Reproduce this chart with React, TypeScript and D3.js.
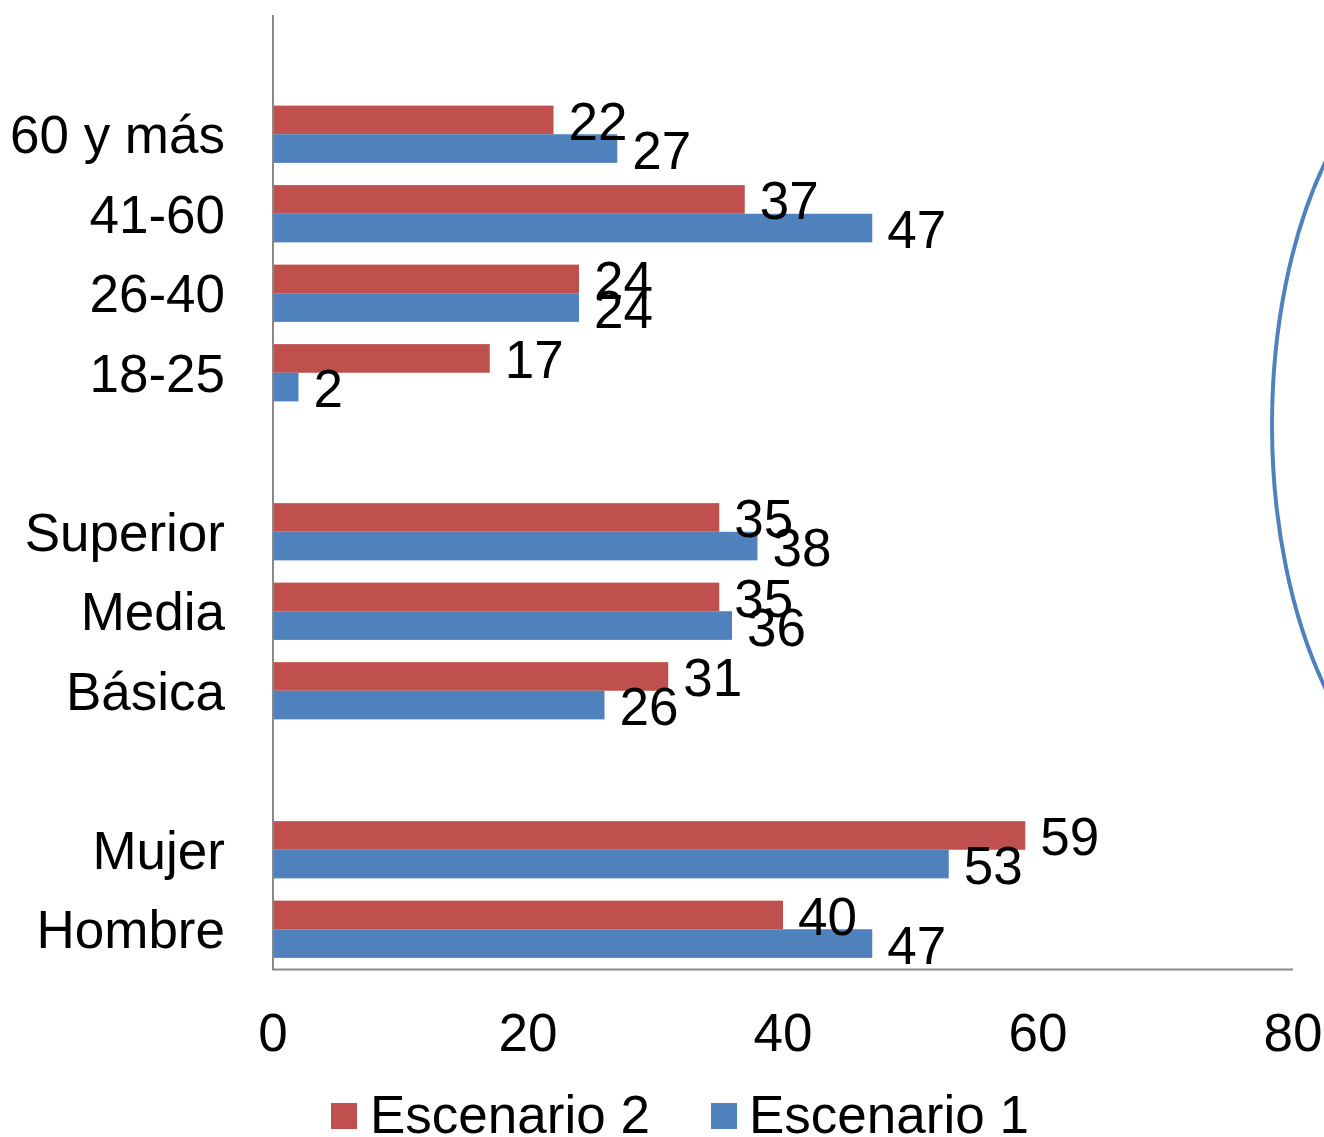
import React from "react";
import * as d3 from "d3";

const categories = ["60 y más", "41-60", "26-40", "18-25", "Superior", "Media", "Básica", "Mujer", "Hombre"];
const escenario2 = [22, 37, 24, 17, 35, 35, 31, 59, 40];
const escenario1 = [27, 47, 24, 2, 38, 36, 26, 53, 47];
const slots = ["_gapTop", "60 y más", "41-60", "26-40", "18-25", "_gap1", "Superior", "Media", "Básica", "_gap2", "Mujer", "Hombre"];
const xTicks = [0, 20, 40, 60, 80];
const seriesNames = ["Escenario 2", "Escenario 1"];

const W = 1324;
const H = 1137;
const RED = "#C0504D";
const BLUE = "#4F81BD";
const AXIS = "#898989";
const FONT = "'Liberation Sans', Arial, sans-serif";
const FS = 53;

export default function App() {
  const x = d3.scaleLinear().domain([0, 80]).range([273, 1293]);
  const y = d3.scaleBand<string>().domain(slots).range([15, 969]).padding(0);
  const bw = y.bandwidth();
  const barH = bw * 0.36;
  const rows = categories.map((c, i) => ({ c, v2: escenario2[i], v1: escenario1[i] }));
  const off = FS * 0.358;

  return (
    <svg width={W} height={H} style={{ position: "absolute", left: 0, top: 0, display: "block", background: "#fff" }} fontFamily={FONT}>
      <rect x={0} y={0} width={W} height={H} fill="#fff" />
      {rows.map((r) => {
        const cy = (y(r.c) as number) + bw / 2;
        return (
          <g key={r.c}>
            <rect x={x(0)} y={cy - barH} width={x(r.v2) - x(0)} height={barH} fill={RED} />
            <rect x={x(0)} y={cy} width={x(r.v1) - x(0)} height={barH} fill={BLUE} />
            <text x={225} y={cy + off} fontSize={FS} textAnchor="end" fill="#000">{r.c}</text>
            <text x={x(r.v2) + 15} y={cy - barH / 2 + off + 1} fontSize={FS} fill="#000">{r.v2}</text>
            <text x={x(r.v1) + 15} y={cy + barH / 2 + off + 1} fontSize={FS} fill="#000">{r.v1}</text>
          </g>
        );
      })}
      <line x1={x(0)} x2={x(0)} y1={15} y2={970} stroke={AXIS} strokeWidth={2} />
      <line x1={x(0) - 1} x2={x(80)} y1={969.5} y2={969.5} stroke={AXIS} strokeWidth={2} />
      {xTicks.map((t) => (
        <text key={t} x={x(t)} y={1051} fontSize={FS} textAnchor="middle" fill="#000">{t}</text>
      ))}
      <g>
        <rect x={331} y={1103} width={26} height={26} fill={RED} />
        <text x={370} y={1133} fontSize={FS} fill="#000">{seriesNames[0]}</text>
        <rect x={711} y={1103} width={26} height={26} fill={BLUE} />
        <text x={749} y={1133} fontSize={FS} fill="#000">{seriesNames[1]}</text>
      </g>
      <ellipse cx={1472} cy={425} rx={200} ry={387} fill="none" stroke={BLUE} strokeWidth={4} />
    </svg>
  );
}
